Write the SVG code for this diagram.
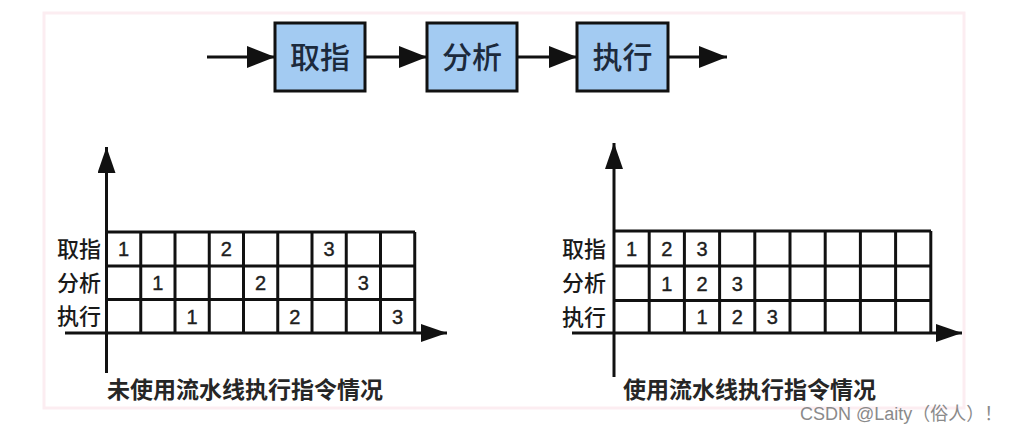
<svg xmlns="http://www.w3.org/2000/svg" width="1018" height="433" viewBox="0 0 1018 433">
  <style>
    .bg { fill: #ffffff; }
    .frame { fill: none; stroke: #fcedf1; stroke-width: 3; }
    .stage rect { fill: #a3cbf2; stroke: #111; stroke-width: 3; }
    .stage text { font-family: "Noto Sans CJK SC", "Noto Sans", sans-serif; font-size: 30px; font-weight: 500; fill: #1c2a3c; text-anchor: middle; }
    .conn line { stroke: #111; stroke-width: 3; }
    .axis line { stroke: #111; stroke-width: 3; }
    .grid line { stroke: #111; stroke-width: 3; }
    .rowlab { font-family: "Noto Sans CJK SC", "Noto Sans", sans-serif; font-size: 22px; font-weight: 500; fill: #1a1a1a; text-anchor: end; }
    .num { font-family: "Liberation Sans", Arial, sans-serif; font-size: 20px; fill: #1e1e1e; stroke: #1e1e1e; stroke-width: 0.4; text-anchor: middle; }
    .cap { font-family: "Noto Sans CJK SC", sans-serif; font-size: 23px; font-weight: bold; fill: #262626; }
    .wm { font-family: "Liberation Sans", "Noto Sans CJK SC", sans-serif; font-size: 18px; fill: #8a8a8a; }
  </style>
  <defs>
    <marker id="arrowBig" markerUnits="userSpaceOnUse" markerWidth="28" markerHeight="22" refX="28" refY="11" orient="auto">
      <path d="M0,0 L28,11 L0,22 z" fill="#111"/>
    </marker>
    <marker id="arrowAxis" markerUnits="userSpaceOnUse" markerWidth="26" markerHeight="18" refX="26" refY="9" orient="auto">
      <path d="M0,0 L26,9 L0,18 z" fill="#111"/>
    </marker>
  </defs>
  <rect class="bg" x="0" y="0" width="1018" height="433"/>
  <rect class="frame" x="44" y="13" width="920" height="395"/>

  <g id="connectors" class="conn">
    <line x1="207" y1="57" x2="275" y2="57" marker-end="url(#arrowBig)"/>
    <line x1="365" y1="57" x2="427" y2="57" marker-end="url(#arrowBig)"/>
    <line x1="517" y1="57" x2="577" y2="57" marker-end="url(#arrowBig)"/>
    <line x1="668" y1="57" x2="727" y2="57" marker-end="url(#arrowBig)"/>
  </g>

  <g id="node-fetch" class="stage">
    <rect x="275" y="23" width="90" height="68"/>
    <text x="320" y="67.5">取指</text>
  </g>
  <g id="node-decode" class="stage">
    <rect x="427" y="23" width="90" height="68"/>
    <text x="472" y="67.5">分析</text>
  </g>
  <g id="node-exec" class="stage">
    <rect x="577" y="23" width="91" height="68"/>
    <text x="622.5" y="67.5">执行</text>
  </g>

  <g id="chart-sequential">
    <g class="grid">
      <line x1="106.5" y1="232" x2="415" y2="232"/>
      <line x1="106.5" y1="266" x2="415" y2="266"/>
      <line x1="106.5" y1="299.5" x2="415" y2="299.5"/>
      <line x1="140.75" y1="232" x2="140.75" y2="333"/>
      <line x1="175" y1="232" x2="175" y2="333"/>
      <line x1="209.25" y1="232" x2="209.25" y2="333"/>
      <line x1="243.5" y1="232" x2="243.5" y2="333"/>
      <line x1="277.75" y1="232" x2="277.75" y2="333"/>
      <line x1="312" y1="232" x2="312" y2="333"/>
      <line x1="346.25" y1="232" x2="346.25" y2="333"/>
      <line x1="380.5" y1="232" x2="380.5" y2="333"/>
      <line x1="414.75" y1="232" x2="414.75" y2="333"/>
    </g>
    <g class="axis">
      <line x1="65" y1="333" x2="447" y2="333" marker-end="url(#arrowAxis)"/>
      <line x1="106.5" y1="373" x2="106.5" y2="147" marker-end="url(#arrowAxis)"/>
    </g>
    <text class="rowlab" x="101" y="257">取指</text>
    <text class="rowlab" x="101" y="291">分析</text>
    <text class="rowlab" x="101" y="324">执行</text>
    <text class="num" x="123.6" y="256.2">1</text>
    <text class="num" x="226.4" y="256.2">2</text>
    <text class="num" x="329.1" y="256.2">3</text>
    <text class="num" x="157.9" y="290">1</text>
    <text class="num" x="260.6" y="290">2</text>
    <text class="num" x="363.4" y="290">3</text>
    <text class="num" x="192.1" y="323.5">1</text>
    <text class="num" x="294.9" y="323.5">2</text>
    <text class="num" x="397.6" y="323.5">3</text>
    <text class="cap" x="107" y="398">未使用流水线执行指令情况</text>
  </g>

  <g id="chart-pipelined">
    <g class="grid">
      <line x1="614" y1="231" x2="931" y2="231"/>
      <line x1="614" y1="266" x2="931" y2="266"/>
      <line x1="614" y1="300.5" x2="931" y2="300.5"/>
      <line x1="649.2" y1="231" x2="649.2" y2="333"/>
      <line x1="684.4" y1="231" x2="684.4" y2="333"/>
      <line x1="719.6" y1="231" x2="719.6" y2="333"/>
      <line x1="754.8" y1="231" x2="754.8" y2="333"/>
      <line x1="790" y1="231" x2="790" y2="333"/>
      <line x1="825.2" y1="231" x2="825.2" y2="333"/>
      <line x1="860.4" y1="231" x2="860.4" y2="333"/>
      <line x1="895.6" y1="231" x2="895.6" y2="333"/>
      <line x1="930.8" y1="231" x2="930.8" y2="333"/>
    </g>
    <g class="axis">
      <line x1="572" y1="333" x2="962" y2="333" marker-end="url(#arrowAxis)"/>
      <line x1="614" y1="377" x2="614" y2="143" marker-end="url(#arrowAxis)"/>
    </g>
    <text class="rowlab" x="606" y="256.5">取指</text>
    <text class="rowlab" x="606" y="291">分析</text>
    <text class="rowlab" x="606" y="324.5">执行</text>
    <text class="num" x="631.6" y="255.7">1</text>
    <text class="num" x="666.8" y="255.7">2</text>
    <text class="num" x="702" y="255.7">3</text>
    <text class="num" x="666.8" y="290.5">1</text>
    <text class="num" x="702" y="290.5">2</text>
    <text class="num" x="737.2" y="290.5">3</text>
    <text class="num" x="702" y="324">1</text>
    <text class="num" x="737.2" y="324">2</text>
    <text class="num" x="772.4" y="324">3</text>
    <text class="cap" x="623" y="398">使用流水线执行指令情况</text>
  </g>

  <text class="wm" x="800" y="420">CSDN @Laity（俗人）！</text>
</svg>
